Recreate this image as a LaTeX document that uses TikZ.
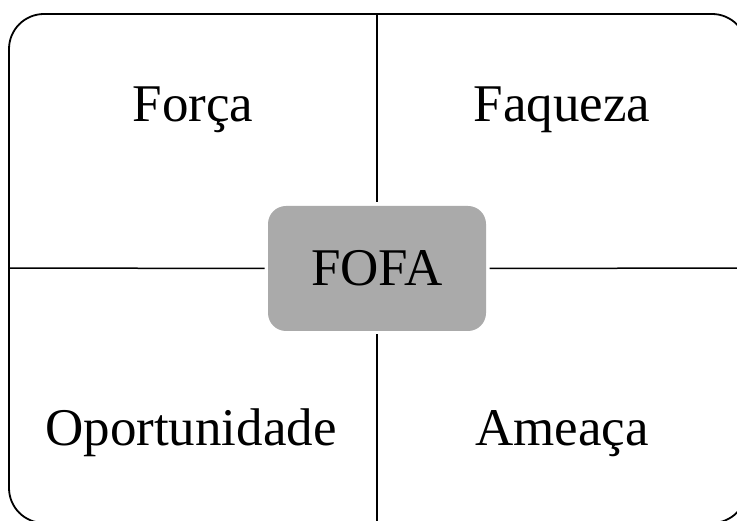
\documentclass[tikz,border=0pt]{standalone}
\usepackage{fontspec}
\setmainfont{Liberation Serif}
\begin{document}
\begin{tikzpicture}[x=1pt,y=-1pt,
  lbl/.style={anchor=base,inner sep=0pt,font=\fontsize{53}{60}\selectfont},
  frame/.style={draw=black,line width=1.8pt,rounded corners=35pt},
  divider/.style={draw=black,line width=1.5pt},
  centerbox/.style={fill=fofagray,rounded corners=18pt,minimum width=218pt,minimum height=125pt,inner sep=0pt,outer sep=3.5pt,font=\fontsize{53}{60}\selectfont}]
\definecolor{fofagray}{HTML}{AAAAAA}
\useasboundingbox (0,0) rectangle (737,521);
\draw[frame] (9,14) rectangle (747,523);
\coordinate (top) at (377,14);
\coordinate (bottom) at (377,523);
\coordinate (left) at (9,268);
\coordinate (right) at (747,268);
\node[centerbox] (fofa) at (377,268.5) {FOFA};
\draw[divider] (top) -- (fofa.north);
\draw[divider] (fofa.south) -- (bottom);
\draw[divider] (left) -- (fofa.west);
\draw[divider] (fofa.east) -- (right);
\node[lbl] (forca) at (193,122) {Força};
\node[lbl] (fraqueza) at (562,122) {Faqueza};
\node[lbl] (oport) at (191,446) {Oportunidade};
\node[lbl] (ameaca) at (562,446) {Ameaça};
\end{tikzpicture}
\end{document}
